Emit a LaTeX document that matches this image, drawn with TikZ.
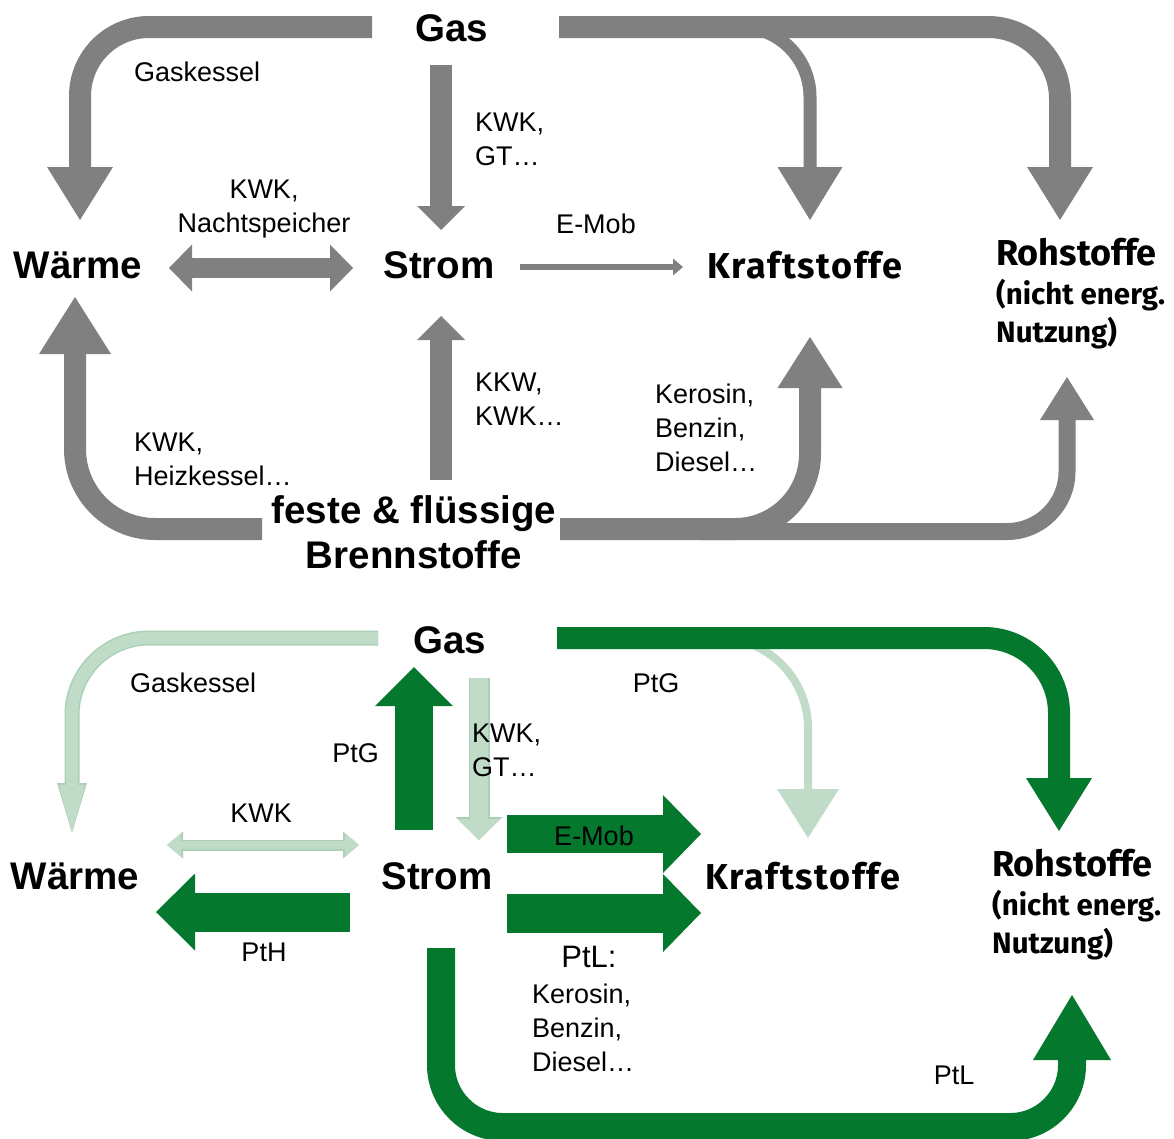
\documentclass[tikz,border=0pt]{standalone}
\usepackage{fontspec}
\setmainfont{Liberation Sans}
\newfontfamily\firafont{Fira Sans}
\newfontfamily\firaweit[LetterSpace=4.5]{Fira Sans}
\usetikzlibrary{arrows.meta}
\definecolor{grau}{RGB}{128,128,128}
\definecolor{dgruen}{RGB}{4,120,44}
\definecolor{hgruen}{RGB}{192,220,201}
\definecolor{hrand}{RGB}{170,208,181}
\tikzset{
  lbl/.style={font=\fontsize{27}{34}\selectfont,inner sep=0pt,align=left},
  haupt/.style={font=\bfseries\fontsize{38.5}{45}\selectfont,inner sep=0pt,align=center},
  ziel/.style={font=\firafont\bfseries\fontsize{36}{40}\selectfont,inner sep=0pt},
  zielweit/.style={font=\firaweit\bfseries\fontsize{36}{40}\selectfont,inner sep=0pt},
  zielklein/.style={font=\firafont\bfseries\fontsize{29.5}{38}\selectfont,inner sep=0pt,align=left},
  pfeil/.style n args={4}{draw=#1,line width=#2,-{Triangle[width=#3,length=#4,line width=0pt]}},
  dpfeil/.style n args={4}{draw=#1,line width=#2,{Triangle[width=#3,length=#4,line width=0pt]}-{Triangle[width=#3,length=#4,line width=0pt]}},
  hpfeil/.style n args={6}{preaction={pfeil={hrand}{#4}{#5}{#6}},pfeil={hgruen}{#1}{#2}{#3}},
  hdpfeil/.style n args={6}{preaction={dpfeil={hrand}{#4}{#5}{#6}},dpfeil={hgruen}{#1}{#2}{#3}}
}
\begin{document}
\begin{tikzpicture}[x=1pt,y=-1pt]
\useasboundingbox (0,0) rectangle (1174,1138);
% oben: heute
\coordinate (gw1) at (372,27);   \coordinate (gw2) at (80,220);
\coordinate (gs1) at (441,65);   \coordinate (gs2) at (441,230);
\coordinate (gk1) at (700,27);   \coordinate (gk2) at (810,220);
\coordinate (gr1) at (559,27);   \coordinate (gr2) at (1060,220);
\coordinate (ws1) at (169,268);  \coordinate (ws2) at (353,268);
\coordinate (sk1) at (520,267);  \coordinate (sk2) at (683,267);
\coordinate (bw1) at (262,529);  \coordinate (bw2) at (75,297);
\coordinate (bs1) at (441,480);  \coordinate (bs2) at (441,316);
\coordinate (br1) at (700,531.5);\coordinate (br2) at (1067,377);
\coordinate (bk1) at (560,529);  \coordinate (bk2) at (810,337);
\draw[pfeil={grau}{22pt}{66pt}{53pt},rounded corners=69pt] (gw1) -- (gw1 -| gw2) -- (gw2);
\draw[pfeil={grau}{22pt}{48pt}{24pt}] (gs1) -- (gs2);
\draw[pfeil={grau}{13pt}{65pt}{53pt},rounded corners=70pt] (gk1) -- (gk1 -| gk2) -- (gk2);
\draw[pfeil={grau}{22pt}{66pt}{53pt},rounded corners=72pt] (gr1) -- (gr1 -| gr2) -- (gr2);
\draw[dpfeil={grau}{20pt}{47pt}{23pt}] (ws1) -- (ws2);
\draw[pfeil={grau}{6pt}{17pt}{10pt}] (sk1) -- (sk2);
\draw[pfeil={grau}{22pt}{72pt}{57pt},rounded corners=80pt] (bw1) -- (bw1 -| bw2) -- (bw2);
\draw[pfeil={grau}{22pt}{48pt}{24pt}] (bs1) -- (bs2);
\draw[pfeil={grau}{17pt}{54pt}{43pt},rounded corners=60pt] (br1) -- (br1 -| br2) -- (br2);
\draw[pfeil={grau}{22pt}{65pt}{51pt},rounded corners=75pt] (bk1) -- (bk1 -| bk2) -- (bk2);
\node[haupt] (gas1) at (452,28) {Gas};
\node[haupt] (waerme1) at (78,265) {Wärme};
\node[haupt] (strom1) at (439,265) {Strom};
\node[zielweit] (kraft1) at (805,265) {Kraftstoffe};
\node[ziel,anchor=west] (roh1) at (996,252) {Rohstoffe};
\node[zielklein,anchor=west] (rohb1) at (996,314) {(nicht energ.\\Nutzung)};
\node[haupt] (brenn1) at (414,532) {feste \& flüssige\\Brennstoffe};
\node[lbl,anchor=west] (gkl1) at (134,72) {Gaskessel};
\node[lbl,anchor=west] (kgt1) at (475,139) {KWK,\\GT…};
\node[lbl,align=center] (kns1) at (264,209) {KWK,\\Nachtspeicher};
\node[lbl] (emob1) at (596,224) {E-Mob};
\node[lbl,anchor=west] (khk1) at (134,459) {KWK,\\Heizkessel…};
\node[lbl,anchor=west] (kkw1) at (475,399) {KKW,\\KWK…};
\node[lbl,anchor=west] (kbd1) at (655,428) {Kerosin,\\Benzin,\\Diesel…};
% unten: Zukunft
\coordinate (gw3) at (378,638);  \coordinate (gw4) at (72,833);
\coordinate (gs3) at (479,678);  \coordinate (gs4) at (479,840);
\coordinate (sg3) at (414,830);  \coordinate (sg4) at (414,667);
\coordinate (ws3) at (167,845);  \coordinate (ws4) at (359,845);
\coordinate (sw3) at (350,912);  \coordinate (sw4) at (156,912);
\coordinate (sk3) at (507,834);  \coordinate (sk4) at (701,834);
\coordinate (sl3) at (507,913);  \coordinate (sl4) at (701,913);
\coordinate (gk3) at (650,638);  \coordinate (gk4) at (808,838);
\coordinate (gr3) at (557,638);  \coordinate (gr4) at (1059,831);
\coordinate (sr3) at (441,948);  \coordinate (sr4) at (1072,1127); \coordinate (sr5) at (1072,995);
\draw[hpfeil={12pt}{26pt}{48pt}{15pt}{30pt}{50pt},rounded corners=77pt] (gw3) -- (gw3 -| gw4) -- (gw4);
\draw[hpfeil={18pt}{43pt}{21pt}{21pt}{47pt}{23pt}] (gs3) -- (gs4);
\draw[pfeil={dgruen}{38pt}{78pt}{39pt}] (sg3) -- (sg4);
\draw[hdpfeil={8pt}{23pt}{14pt}{11pt}{27pt}{16pt}] (ws3) -- (ws4);
\draw[pfeil={dgruen}{39pt}{77pt}{39pt}] (sw3) -- (sw4);
\draw[pfeil={dgruen}{38pt}{78pt}{38pt}] (sk3) -- (sk4);
\draw[pfeil={dgruen}{39pt}{78pt}{38pt}] (sl3) -- (sl4);
\draw[pfeil={hgruen}{8pt}{62pt}{49pt},rounded corners=90pt] (gk3) -- (gk3 -| gk4) -- (gk4);
\draw[pfeil={dgruen}{22pt}{66pt}{53pt},rounded corners=75pt] (gr3) -- (gr3 -| gr4) -- (gr4);
\draw[pfeil={dgruen}{28pt}{78pt}{65pt},rounded corners=62pt] (sr3) -- (sr3 |- sr4) -- (sr4) -- (sr5);
\node[haupt] (gas2) at (450,640) {Gas};
\node[haupt] (waerme2) at (75,876) {Wärme};
\node[haupt] (strom2) at (437,876) {Strom};
\node[zielweit] (kraft2) at (803,876) {Kraftstoffe};
\node[ziel,anchor=west] (roh2) at (992,863) {Rohstoffe};
\node[zielklein,anchor=west] (rohb2) at (992,925) {(nicht energ.\\Nutzung)};
\node[lbl,anchor=west] (gkl2) at (130,683) {Gaskessel};
\node[lbl,anchor=east] (ptg2) at (379,753) {PtG};
\node[lbl,anchor=west] (kgt2) at (472,750) {KWK,\\GT…};
\node[lbl] (kwk2) at (261,813) {KWK};
\node[lbl] (ptgr2) at (656,683) {PtG};
\node[lbl] (emob2) at (594,836) {E-Mob};
\node[lbl] (pth2) at (264,952) {PtH};
\node[lbl,font=\fontsize{31}{36}\selectfont] (ptl2) at (589,957) {PtL:};
\node[lbl,anchor=west] (kbd2) at (532,1028) {Kerosin,\\Benzin,\\Diesel…};
\node[lbl] (ptlr2) at (954,1075) {PtL};
\end{tikzpicture}
\end{document}
